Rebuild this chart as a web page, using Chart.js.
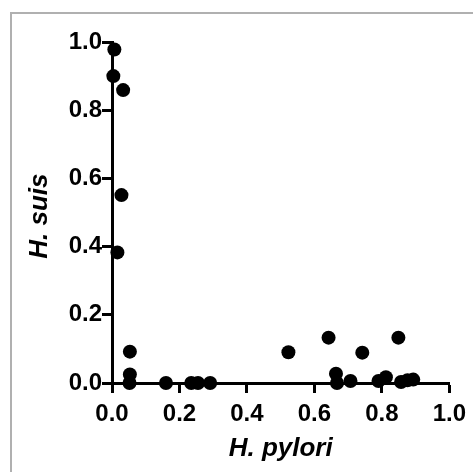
<!DOCTYPE html>
<html>
<head>
<meta charset="utf-8">
<script src="https://cdn.jsdelivr.net/npm/chart.js@4"></script>
<style>
  html, body { margin: 0; padding: 0; background: #fff; }
  #wrap { position: relative; width: 473px; height: 472px; overflow: hidden; }
  #frame { position: absolute; left: 10px; top: 12px; width: 480px; height: 480px;
           border-left: 2px solid #b0b0b0; border-top: 2px solid #b0b0b0; }
  #grafico { position: absolute; left: 0; top: 0; }
</style>
</head>
<body>
<div id="wrap">
  <div id="frame"></div>
  <canvas id="grafico" width="473" height="472"></canvas>
</div>
<script>
// valori
const hPylori = [0.007, 0.004, 0.033, 0.028, 0.016, 0.053, 0.053, 0.052, 0.160, 0.235, 0.255, 0.291,
                 0.523, 0.642, 0.664, 0.667, 0.707, 0.742, 0.790, 0.812, 0.849, 0.857, 0.876, 0.893];
const hSuis = [0.978, 0.900, 0.859, 0.551, 0.383, 0.092, 0.025, 0.000, 0.000, 0.000, 0.000, 0.000,
               0.090, 0.133, 0.027, 0.000, 0.006, 0.089, 0.006, 0.017, 0.133, 0.003, 0.008, 0.010];
const tickValori = [0, 0.2, 0.4, 0.6, 0.8, 1.0];
const titoloX = 'H. pylori';
const titoloY = 'H. suis ';  // spazio finale: sposta un po' il titolo verso il basso

const punti = hPylori.map((x, i) => ({ x: x, y: hSuis[i] }));

const fontTick = { family: 'Liberation Sans, Arial, sans-serif', size: 24, weight: 'bold' };
const fontTitolo = { family: 'Liberation Sans, Arial, sans-serif', size: 26, weight: 'bold', style: 'italic' };

function assi(extra) {
    return Object.assign({
        type: 'linear',
        min: 0,
        max: 1,
        afterBuildTicks: s => { s.ticks = tickValori.map(v => ({ value: v })); },
        grid: {
            display: true,
            drawOnChartArea: false,
            drawTicks: true,
            tickLength: 10,
            tickWidth: 3,
            color: '#000'
        },
        border: { display: true, color: '#000', width: 3 }
    }, extra);
}

const ctx = document.getElementById('grafico').getContext('2d');
new Chart(ctx, {
    type: 'scatter',
    data: {
        datasets: [{
            label: 'H. suis vs H. pylori',
            data: punti,
            backgroundColor: '#000',
            borderColor: '#000',
            borderWidth: 0,
            pointRadius: 7,
            pointHoverRadius: 7,
            clip: false
        }]
    },
    options: {
        responsive: false,
        animation: false,
        events: [],
        layout: { padding: { top: 42, right: 19, left: 0, bottom: 0 } },
        plugins: { legend: { display: false }, tooltip: { enabled: false } },
        scales: {
            x: assi({
                ticks: { color: '#000', font: fontTick, padding: 7, maxRotation: 0,
                         callback: v => Number(v).toFixed(1) },
                title: { display: true, text: titoloX, color: '#000', font: fontTitolo,
                         padding: { top: 0, bottom: 8 } },
                afterFit: s => { s.height = 89; }
            }),
            y: assi({
                ticks: { color: '#000', font: fontTick, padding: 0,
                         callback: v => Number(v).toFixed(1) },
                title: { display: true, text: titoloY, color: '#000', font: fontTitolo,
                         padding: { top: 24, bottom: 0 } },
                afterFit: s => { s.width = 112; }
            })
        }
    }
});
</script>
</body>
</html>
